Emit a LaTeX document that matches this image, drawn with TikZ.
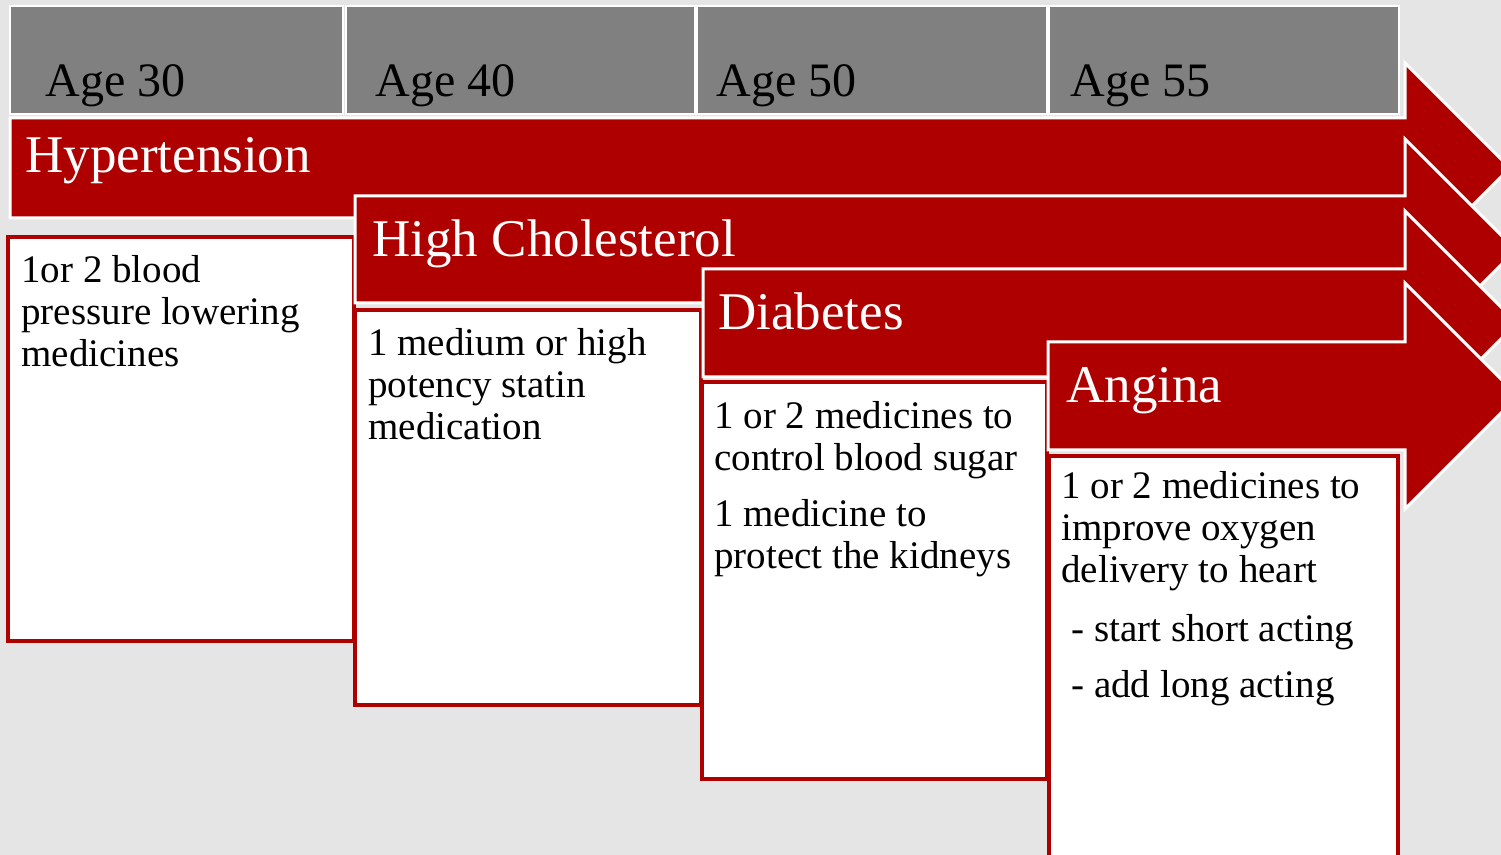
\documentclass[tikz,border=0pt]{standalone}
\usepackage{fontspec}
\setmainfont{Liberation Serif}
\definecolor{darkred}{RGB}{175,0,0}
\definecolor{bg}{RGB}{229,229,229}
\definecolor{hdr}{RGB}{128,128,128}
\begin{document}
\begin{tikzpicture}[x=0.5pt,y=-0.5pt]
  \tikzset{ age/.style={fill=hdr,draw=white,line width=1.2pt},
    band/.style={fill=darkred,draw=white,line width=1.5pt},
    card/.style={fill=white,draw=darkred,line width=1.8pt},
    lab/.style={anchor=base west,inner sep=0pt,font=\fontsize{24}{28}\selectfont},
    ttl/.style={anchor=base west,inner sep=0pt,white,font=\fontsize{26.5}{30}\selectfont},
    txt/.style={anchor=north west,inner sep=0pt,align=left,font=\fontsize{19.5}{21}\selectfont},
  }
  \fill[bg] (0,0) rectangle (1501,855);
  \useasboundingbox (0,0) rectangle (1501,855);
  \clip (0,0) rectangle (1501,855);

  % age header
  \draw[age] (10,6)   rectangle (343,114);
  \draw[age] (346,6)  rectangle (695,114);
  \draw[age] (697,6)  rectangle (1047,114);
  \draw[age] (1049,6) rectangle (1399,114);
  \node[lab] (a30) at (45,97)   {Age 30};
  \node[lab] (a40) at (375,97)  {Age 40};
  \node[lab] (a50) at (716,97)  {Age 50};
  \node[lab] (a55) at (1070,97) {Age 55};

  % hypertension
  \draw[band] (10,118) -- (1405,118) -- (1405,63) -- (1510,168)
    -- (1405,273) -- (1405,218) -- (10,218) -- cycle;
  \node[ttl] (hyp) at (25,173) {Hypertension};
  \draw[card] (8,237) rectangle (354,641);
  \node[txt] (hyptx) at (21,255) {1or 2 blood\\pressure lowering\\medicines};

  % cholesterol
  \draw[band] (355,196) -- (1405,196) -- (1405,139) -- (1516,250)
    -- (1405,361) -- (1405,303) -- (355,303) -- cycle;
  \node[ttl] (chol) at (372,257) {High Cholesterol};
  \draw[card] (355,310) rectangle (701,705);
  \node[txt] (choltx) at (368,328) {1 medium or high\\potency statin\\medication};

  % diabetes
  \draw[band] (703,269) -- (1405,269) -- (1405,211) -- (1517,323)
    -- (1405,435) -- (1405,377) -- (703,377) -- cycle;
  \node[ttl] (diab) at (718,330) {Diabetes};
  \draw[card] (702,382) rectangle (1047,779);
  \node[txt] (diabtx) at (714,401) {1 or 2 medicines to\\control blood sugar\\[7pt]
    1 medicine to\\protect the kidneys};

  % angina
  \draw[band] (1048,342) -- (1405,342) -- (1405,283) -- (1518,396)
    -- (1405,509) -- (1405,450) -- (1048,450) -- cycle;
  \node[ttl] (ang) at (1066,403) {Angina};
  \draw[card] (1049,456) rectangle (1398,880);
  \node[txt] (angtx) at (1061,471) {1 or 2 medicines to\\improve oxygen\\delivery to heart\\[8.5pt]
    \hspace{5pt}- start short acting\\[7pt]
    \hspace{5pt}- add long acting};
\end{tikzpicture}
\end{document}
